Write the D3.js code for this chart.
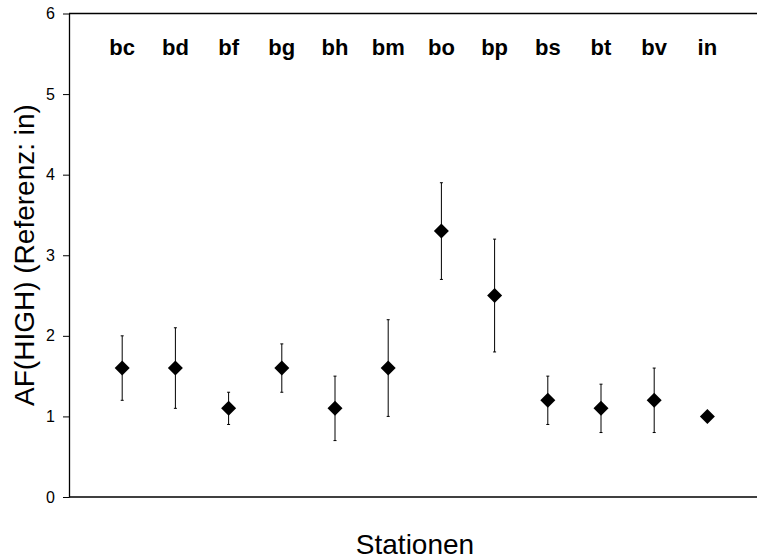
<!DOCTYPE html>
<html><head><meta charset="utf-8">
<script src="https://cdn.jsdelivr.net/npm/d3@7"></script>
<style>body{margin:0;background:#fff}svg{display:block}</style>
</head><body>
<svg id="c" width="757" height="560"></svg>
<script>
const stations = ["bc","bd","bf","bg","bh","bm","bo","bp","bs","bt","bv","in"];
const values = [1.6,1.6,1.1,1.6,1.1,1.6,3.3,2.5,1.2,1.1,1.2,1.0];
const lower = [1.2,1.1,0.9,1.3,0.7,1.0,2.7,1.8,0.9,0.8,0.8,null];
const upper = [2.0,2.1,1.3,1.9,1.5,2.2,3.9,3.2,1.5,1.4,1.6,null];
const yTicks = [0,1,2,3,4,5,6];

const svg = d3.select("#c");
const x0 = 69, plotRight = 757, yTop = 13.5, yBot = 497;
const x = d3.scaleLinear().domain([0,13]).range([x0, x0 + 53.2*13]);
const y = d3.scaleLinear().domain([0,6]).range([yBot, yTop]);
const font = "Arial, 'Liberation Sans', sans-serif";

// axis
const yAxis = d3.axisLeft(y).tickValues(yTicks).tickFormat(d3.format("d"))
  .tickSize(6).tickSizeOuter(0).tickPadding(8);
const g = svg.append("g").attr("transform",`translate(${x0},0)`).call(yAxis);
g.select(".domain").attr("stroke","#000").attr("stroke-width",1.3);
g.selectAll(".tick line").attr("stroke","#000");
g.selectAll(".tick text").attr("font-family",font).attr("font-size",16).attr("fill","#000");

svg.append("line").attr("x1",x0).attr("x2",plotRight).attr("y1",y(0)).attr("y2",y(0)).attr("stroke","#000").attr("stroke-width",1.3);
svg.append("line").attr("x1",x0).attr("x2",plotRight).attr("y1",y(6)).attr("y2",y(6)).attr("stroke","#000").attr("stroke-width",1.3);

// station labels
svg.selectAll("text.st").data(stations).enter().append("text")
  .attr("class","st").attr("x",(d,i)=>x(i+1)).attr("y",55)
  .attr("text-anchor","middle").attr("font-family",font).attr("font-weight","bold")
  .attr("font-size",22).text(d=>d);

// error bars
const eb = stations.map((s,i)=>({i,lo:lower[i],hi:upper[i]})).filter(d=>d.lo!=null);
svg.selectAll("line.eb").data(eb).enter().append("line")
  .attr("x1",d=>x(d.i+1)).attr("x2",d=>x(d.i+1))
  .attr("y1",d=>y(d.lo)).attr("y2",d=>y(d.hi)).attr("stroke","#000").attr("stroke-width",1);
["lo","hi"].forEach(k=>{
  svg.selectAll("line.cap"+k).data(eb).enter().append("line")
    .attr("x1",d=>x(d.i+1)-1.5).attr("x2",d=>x(d.i+1)+1.5)
    .attr("y1",d=>y(d[k])).attr("y2",d=>y(d[k])).attr("stroke","#000").attr("stroke-width",1);
});

// diamonds
svg.selectAll("path.pt").data(values).enter().append("path")
  .attr("transform",(d,i)=>`translate(${x(i+1)},${y(d)})`)
  .attr("d","M0,-7.5L7.5,0L0,7.5L-7.5,0Z").attr("fill","#000");

// titles
svg.append("text").attr("transform","translate(34,255) rotate(-90)")
  .attr("text-anchor","middle").attr("font-family",font).attr("font-size",28).text("AF(HIGH) (Referenz: in)");
svg.append("text").attr("x",415).attr("y",554).attr("text-anchor","middle")
  .attr("font-family",font).attr("font-size",28).text("Stationen");
</script>
</body></html>
